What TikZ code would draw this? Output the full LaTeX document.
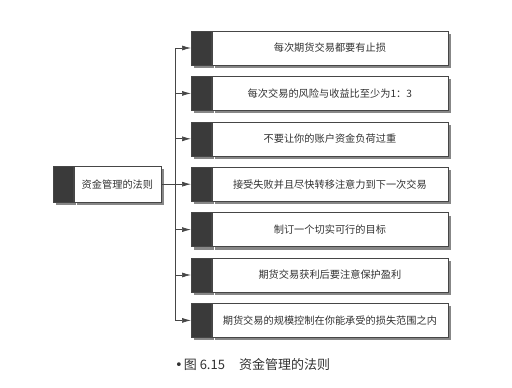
\documentclass[tikz,border=0pt]{standalone}
\usepackage{fontspec}
\setmainfont{Noto Sans CJK SC}
\newfontfamily\symfont{DejaVu Sans}
\usetikzlibrary{arrows.meta,positioning,shadows}
\definecolor{inkgray}{RGB}{70,70,70}
\definecolor{tabgray}{RGB}{58,58,58}
\definecolor{shadegray}{RGB}{135,135,135}
\definecolor{textgray}{RGB}{50,50,50}
\tikzset{
  boxshadow/.style={drop shadow={shadow xshift=3pt,shadow yshift=-3pt,fill=shadegray,opacity=1}},
  ruletab/.style={boxshadow,fill=tabgray,draw=inkgray,line width=0.6pt,minimum width=20pt,minimum height=34pt,
    inner sep=0pt,anchor=west},
  rulebox/.style={boxshadow,draw=inkgray,fill=white,line width=0.6pt,minimum width=236pt,minimum height=34pt,
    inner sep=2pt,font=\fontsize{10.2}{12}\selectfont,text=textgray},
  mainbox/.style={rulebox,minimum width=87pt,minimum height=36pt},
  branch/.style={-{Latex[length=9pt,width=5pt]},line width=0.7pt,draw=inkgray},
  trunkline/.style={line width=0.7pt,draw=inkgray},
  captiontext/.style={font=\fontsize{13}{15}\selectfont,text=textgray,anchor=west,inner sep=0pt}
}
\begin{document}
\begin{tikzpicture}[x=1pt,y=-1pt]
  \useasboundingbox[fill=white] (0,0) rectangle (512,388);
  % central rule
  \node[ruletab,minimum height=36pt] (mt) at (53,184.2) {};
  \node[mainbox,right=0pt of mt] (mr) {资金管理的法则};
  % seven rules
  \node[ruletab] (t1) at (191,48.0) {};
  \node[rulebox,right=0pt of t1] (r1) {每次期货交易都要有止损};
  \node[ruletab] (t2) at (191,93.4) {};
  \node[rulebox,right=0pt of t2] (r2) {每次交易的风险与收益比至少为1：3};
  \node[ruletab] (t3) at (191,138.8) {};
  \node[rulebox,right=0pt of t3] (r3) {不要让你的账户资金负荷过重};
  \node[ruletab] (t4) at (191,184.2) {};
  \node[rulebox,right=0pt of t4] (r4) {接受失败并且尽快转移注意力到下一次交易};
  \node[ruletab] (t5) at (191,229.6) {};
  \node[rulebox,right=0pt of t5] (r5) {制订一个切实可行的目标};
  \node[ruletab] (t6) at (191,275.0) {};
  \node[rulebox,right=0pt of t6] (r6) {期货交易获利后要注意保护盈利};
  \node[ruletab] (t7) at (191,320.4) {};
  \node[rulebox,right=0pt of t7] (r7) {期货交易的规模控制在你能承受的损失范围之内};
  % connectors
  \coordinate (jn) at (175,0);
  \draw[trunkline] (mr.east) -- (jn |- mr.east);
  \draw[trunkline] (jn |- t1.west) -- (jn |- t7.west);
  \draw[branch] (jn |- t1.west) -- (t1.west);
  \draw[branch] (jn |- t2.west) -- (t2.west);
  \draw[branch] (jn |- t3.west) -- (t3.west);
  \draw[branch] (jn |- t4.west) -- (t4.west);
  \draw[branch] (jn |- t5.west) -- (t5.west);
  \draw[branch] (jn |- t6.west) -- (t6.west);
  \draw[branch] (jn |- t7.west) -- (t7.west);
  \node[captiontext] (cap) at (175,365) {{\symfont •}\hspace{1pt}图 6.15\hspace{14pt}资金管理的法则};
\end{tikzpicture}
\end{document}
